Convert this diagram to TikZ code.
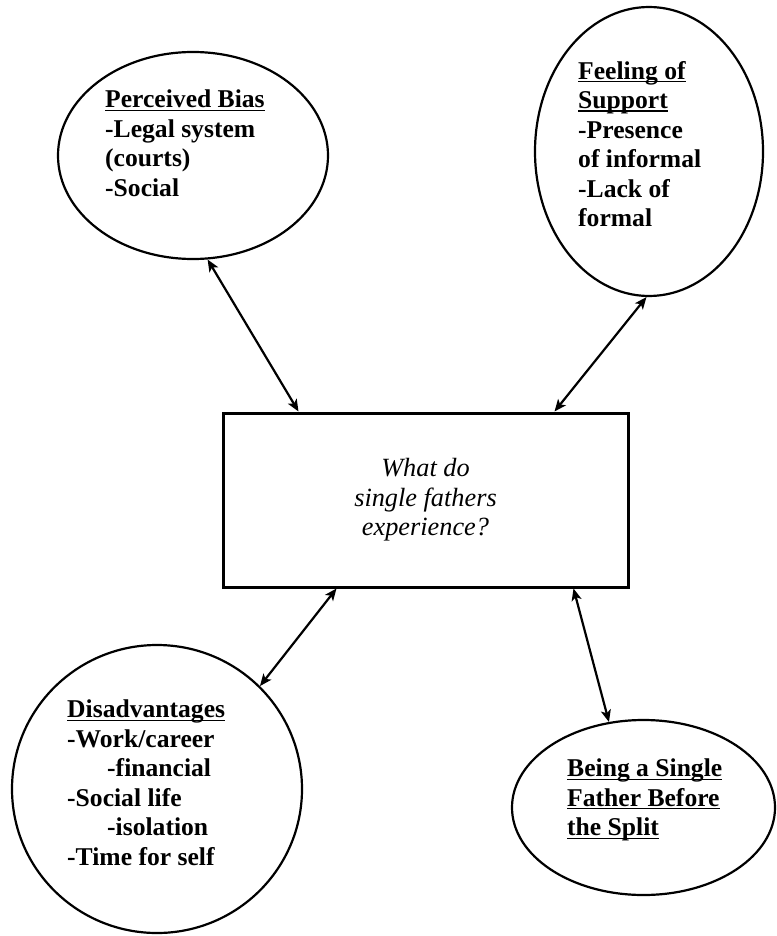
\documentclass[tikz,border=0pt]{standalone}
\usepackage{fontspec}
\setmainfont{Liberation Serif}
\usetikzlibrary{shapes.geometric,arrows.meta}
\newsavebox{\ulsave}
\newcommand{\ulword}[1]{\sbox{\ulsave}{#1}\rlap{\rule[-3pt]{\wd\ulsave}{1.4pt}}\usebox{\ulsave}}

\begin{document}
\begin{tikzpicture}[x=1pt,y=-1pt,
        bubble/.style={draw,ellipse,line width=2.2pt,inner sep=0pt},
        bubbletext/.style={anchor=north west,align=left,inner sep=0pt,
                font=\fontsize{25.6}{29.5}\selectfont\bfseries},
        link/.style={line width=2.2pt,
                {Stealth[length=12pt,width=10pt,inset=3pt]}-{Stealth[length=12pt,width=10pt,inset=3pt]}}]
        \useasboundingbox (0,0) rectangle (776,936);

        \node[bubble,minimum width=270pt,minimum height=207pt] (bias) at (193,155.5) {};
        \node[bubble,minimum width=228pt,minimum height=289pt] (support) at (649,151.5) {};
        \node[bubble,minimum width=290pt,minimum height=288pt] (disadv) at (157,789) {};
        \node[bubble,minimum width=263pt,minimum height=175pt] (before) at (643.5,807.5) {};

        \node[draw,line width=3pt,minimum width=405pt,minimum height=174pt,align=center,
              font=\fontsize{26.3}{29.5}\selectfont\itshape] (question) at (425.5,500)
              {What do\\single fathers\\experience?};

        \node[bubbletext] (biastext) at (105,90)
              {\ulword{Perceived Bias}\\-Legal system\\(courts)\\-Social};
        \node[bubbletext] (supporttext) at (578,61)
              {\ulword{Feeling of}\\\ulword{Support}\\-Presence\\of informal\\-Lack of\\formal};
        \node[bubbletext] (disadvtext) at (67,700)
              {\ulword{Disadvantages}\\-Work/career\\\hspace*{40pt}-financial\\-Social life\\
               \hspace*{40pt}-isolation\\-Time for self};
        \node[bubbletext] (beforetext) at (567,759)
              {\ulword{Being a Single}\\\ulword{Father Before}\\\ulword{the Split}};

        \draw[link] (bias.-82) -- ([xshift=77pt]question.north west);
        \draw[link] (support.-91) -- ([xshift=-75pt]question.north east);
        \draw[link] ([xshift=115pt]question.south west) -- (disadv.45);
        \draw[link] ([xshift=-56pt]question.south east) -- (before.112);
        %\draw[help lines] (0,0) grid[step=50] (776,936);
\end{tikzpicture}
\end{document}
